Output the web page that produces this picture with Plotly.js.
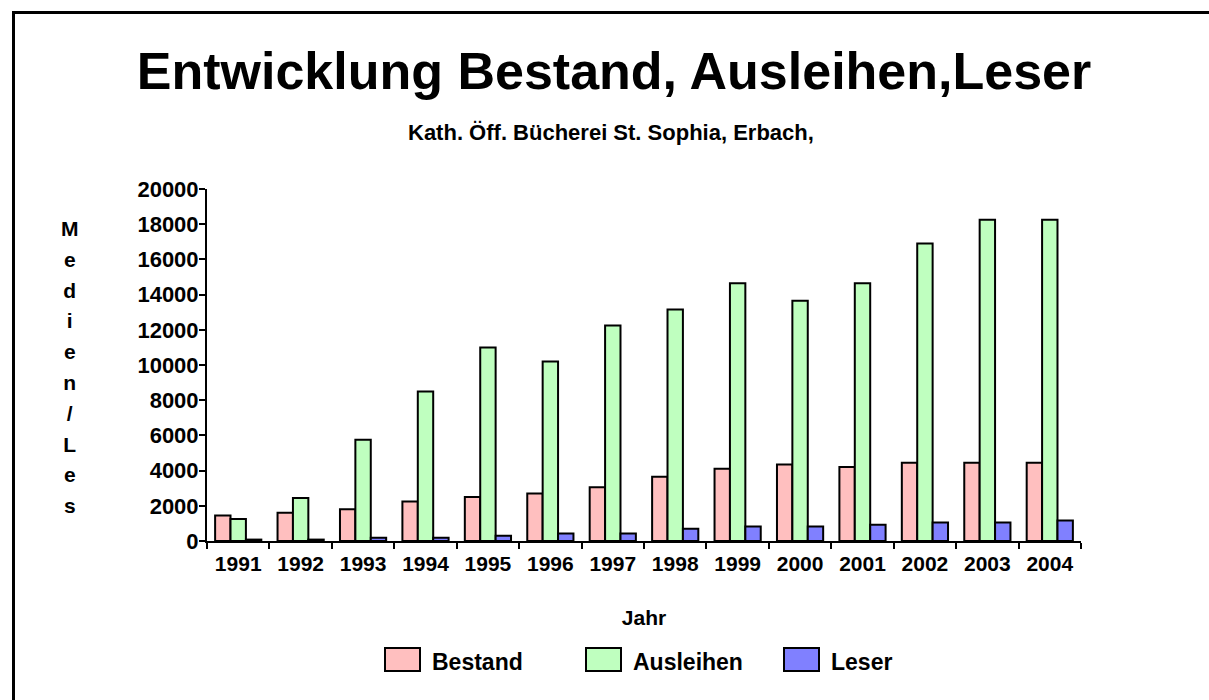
<!DOCTYPE html>
<html>
<head>
<meta charset="utf-8">
<script src="https://cdn.plot.ly/plotly-3.0.1.min.js"></script>
<style>
  html, body { margin: 0; padding: 0; background: #fff; }
  #chart { width: 1209px; height: 700px; }
</style>
</head>
<body>
<div id="chart"></div>
<script>
// ---- data ----
var years = ['1991','1992','1993','1994','1995','1996','1997','1998','1999','2000','2001','2002','2003','2004'];
var bestand   = [1450, 1600, 1800, 2250, 2500, 2700, 3050, 3650, 4100, 4350, 4200, 4450, 4450, 4450];
var ausleihen = [1250, 2450, 5750, 8500, 11000, 10200, 12250, 13150, 14650, 13650, 14650, 16900, 18250, 18250];
var leser     = [80, 80, 180, 180, 300, 420, 420, 700, 820, 820, 930, 1050, 1050, 1160];
var seriesNames  = ['Bestand', 'Ausleihen', 'Leser'];
var seriesColors = ['#FFBFBF', '#BFFFBF', '#8080FF'];
var yTickVals  = [0, 2000, 4000, 6000, 8000, 10000, 12000, 14000, 16000, 18000, 20000];
var yTickTexts = ['0', '2000', '4000', '6000', '8000', '10000', '12000', '14000', '16000', '18000', '20000'];
var yTitleLetters = ['M','e','d','i','e','n','/','L','e','s'];

// ---- layout geometry ----
var W = 1209, H = 700;
var M = {l: 207, r: 128, t: 189, b: 159};
var PW = W - M.l - M.r, PH = H - M.t - M.b;
function px(x) { return (x - M.l) / PW; }
function py(y) { return (H - M.b - y) / PH; }

var FONT = 'Liberation Sans, Arial, Helvetica, sans-serif';
var seriesData = [bestand, ausleihen, leser];

var traces = seriesNames.map(function (name, i) {
  return {
    type: 'bar',
    name: name,
    x: years,
    y: seriesData[i],
    marker: {color: seriesColors[i], line: {color: '#000', width: 2}},
    hoverinfo: 'x+y+name'
  };
});

var shapes = [
  // figure frame (left + top)
  {type: 'line', xref: 'paper', yref: 'paper', x0: px(13.5), x1: px(13.5), y0: py(11), y1: py(702), line: {color: '#000', width: 3}},
  {type: 'line', xref: 'paper', yref: 'paper', x0: px(12), x1: px(1212), y0: py(12.5), y1: py(12.5), line: {color: '#000', width: 3}}
];
var annotations = [
  {xref: 'paper', yref: 'paper', x: px(611), y: py(132), xanchor: 'center', yanchor: 'middle',
   text: 'Kath. Öff. Bücherei St. Sophia, Erbach,', showarrow: false,
   font: {family: FONT, size: 22, color: '#000', weight: 'bold'}},
  {xref: 'paper', yref: 'paper', x: px(70), y: py(367), xanchor: 'center', yanchor: 'middle',
   text: yTitleLetters.map(function (c) { return '<span style="font-size:21px">' + c + '</span>'; }).join('<br>'),
   showarrow: false, font: {family: FONT, size: 23.7, color: '#000', weight: 'bold'}}
];

// custom legend (wide boxes as in the original)
var legendBoxX = [385, 586, 784];
seriesNames.forEach(function (name, i) {
  shapes.push({type: 'rect', xref: 'paper', yref: 'paper',
    x0: px(legendBoxX[i]), x1: px(legendBoxX[i] + 35), y0: py(671), y1: py(648),
    fillcolor: seriesColors[i], line: {color: '#000', width: 2}});
  annotations.push({xref: 'paper', yref: 'paper', x: px(legendBoxX[i] + 45), y: py(662),
    xanchor: 'left', yanchor: 'middle', text: name, showarrow: false,
    font: {family: FONT, size: 23, color: '#000', weight: 'bold'}});
});

var layout = {
  width: W, height: H,
  margin: M,
  paper_bgcolor: '#fff', plot_bgcolor: '#fff',
  font: {family: FONT, color: '#000'},
  title: {
    text: 'Entwicklung Bestand, Ausleihen,Leser',
    font: {family: FONT, size: 52, color: '#000', weight: 'bold'},
    xref: 'paper', x: px(614), xanchor: 'center',
    yref: 'container', y: 1 - 71 / H, yanchor: 'middle'
  },
  showlegend: false,
  barmode: 'group',
  bargap: 0.26,
  bargroupgap: 0,
  xaxis: {
    type: 'category',
    range: [-0.5, 13.5],
    showline: true, linecolor: '#000', linewidth: 2,
    ticks: 'outside', ticklen: 6, tickwidth: 2, tickcolor: '#000',
    tickson: 'boundaries',
    showgrid: false, zeroline: false,
    tickfont: {family: FONT, size: 21, color: '#000', weight: 'bold'},
    ticklabelstandoff: 3,
    title: {text: 'Jahr', standoff: 36, font: {family: FONT, size: 21, color: '#000', weight: 'bold'}}
  },
  xaxis2: {
    overlaying: 'x', anchor: 'y', side: 'bottom',
    range: [-0.5, 13.5], tickmode: 'linear', tick0: -0.5, dtick: 1,
    ticks: 'inside', ticklen: 6, tickwidth: 2, tickcolor: '#000',
    showticklabels: false, showgrid: false, zeroline: false, showline: false
  },
  yaxis: {
    range: [0, 20000],
    tickmode: 'array', tickvals: yTickVals, ticktext: yTickTexts,
    showline: true, linecolor: '#000', linewidth: 2,
    ticks: 'outside', ticklen: 6, tickwidth: 2, tickcolor: '#000',
    showgrid: false, zeroline: false,
    tickfont: {family: FONT, size: 22, color: '#000', weight: 'bold'},
    ticklabelstandoff: -4
  },
  yaxis2: {
    overlaying: 'y', anchor: 'x', side: 'left',
    range: [0, 20000], tickmode: 'array', tickvals: yTickVals,
    ticks: 'inside', ticklen: 6, tickwidth: 2, tickcolor: '#000',
    showticklabels: false, showgrid: false, zeroline: false, showline: false
  },
  shapes: shapes,
  annotations: annotations
};

Plotly.newPlot('chart', traces, layout, {displayModeBar: false, staticPlot: true});
</script>
</body>
</html>
